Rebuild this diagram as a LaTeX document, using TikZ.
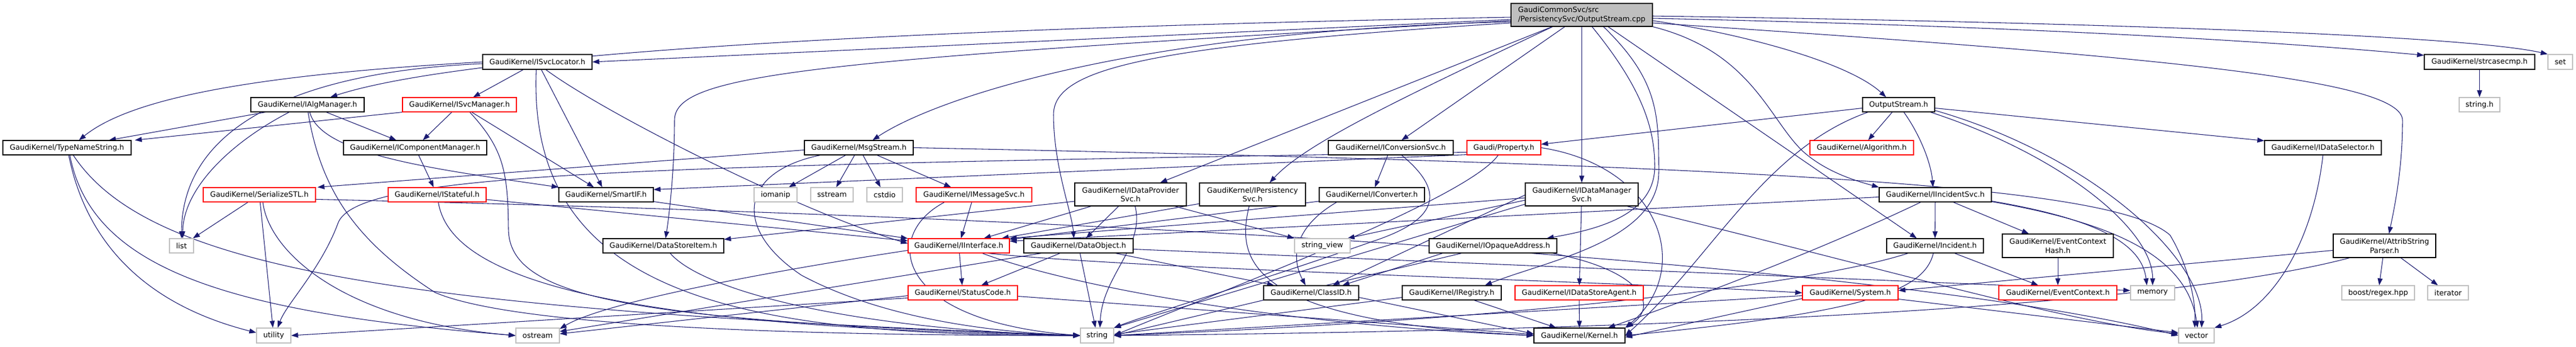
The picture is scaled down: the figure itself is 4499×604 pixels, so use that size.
\documentclass[tikz,border=0pt]{standalone}
\usepackage{fontspec}
\setmainfont{DejaVu Sans}
\usetikzlibrary{arrows.meta,calc}
\definecolor{edgec}{HTML}{191970}
\definecolor{greyb}{HTML}{BFBFBF}
\definecolor{redb}{HTML}{FF0000}
\newcommand{\nodefont}{\fontsize{9.6pt}{11.6pt}\selectfont}
\pgfdeclarelayer{bg}
\pgfsetlayers{bg,main}
\begin{document}
\begin{tikzpicture}[x=0.75pt,y=-0.75pt,
  bw/.style={minimum width=#1*0.75pt},
  bh/.style={minimum height=#1*0.75pt},
  nbox/.style={draw=black,fill=white,line width=0.9pt,inner sep=0pt,font=\nodefont,minimum height=18.75pt,text=black},
  rbox/.style={nbox,draw=redb},
  gbox/.style={nbox,draw=greyb},
  two/.style={align=center,minimum height=30pt},
  dep/.style={draw=edgec,line width=0.8pt,-{Triangle[length=9pt,width=6.5pt]}}
]
\useasboundingbox (0,0) rectangle (4499,604);
% ---- nodes ----
\node[nbox,fill=greyb,bw=247,align=left,minimum height=30pt] (cpp) at (2762.5,26) {GaudiCommonSvc/src\\/PersistencySvc/OutputStream.cpp};
\node[nbox,bw=191,bh=26] (isl) at (938.5,108) {GaudiKernel/ISvcLocator.h};
\node[nbox,bw=193,bh=26] (strc) at (4330.5,108) {GaudiKernel/strcasecmp.h};
\node[gbox,bw=43,bh=26] (set) at (4471.5,108) {set};
\node[nbox,bw=198] (ialg) at (537,182.5) {GaudiKernel/IAlgManager.h};
\node[rbox,bw=199] (ism) at (802.5,182.5) {GaudiKernel/ISvcManager.h};
\node[nbox,bw=126] (osh) at (3316,182.5) {OutputStream.h};
\node[gbox,bw=71] (strh) at (4330.5,182.5) {string.h};
\node[nbox,bw=224] (tns) at (117,257.5) {GaudiKernel/TypeNameString.h};
\node[nbox,bw=250] (icm) at (725,257.5) {GaudiKernel/IComponentManager.h};
\node[nbox,bw=190] (msg) at (1500,257.5) {GaudiKernel/MsgStream.h};
\node[nbox,bw=218] (icv) at (2429,257.5) {GaudiKernel/IConversionSvc.h};
\node[rbox,bw=129] (prop) at (2626.5,257.5) {Gaudi/Property.h};
\node[rbox,bw=181] (alg) at (3251.5,257.5) {GaudiKernel/Algorithm.h};
\node[nbox,bw=204] (idsel) at (4057,257.5) {GaudiKernel/IDataSelector.h};
\node[rbox,bw=196] (ser) at (453,339.5) {GaudiKernel/SerializeSTL.h};
\node[rbox,bw=171] (ist) at (763.5,339.5) {GaudiKernel/IStateful.h};
\node[nbox,bw=165] (sif) at (1058.5,339.5) {GaudiKernel/SmartIF.h};
\node[gbox,bw=75] (iom) at (1354.5,339.5) {iomanip};
\node[gbox,bw=74] (sst) at (1453,339.5) {sstream};
\node[gbox,bw=62] (cst) at (1545,339.5) {cstdio};
\node[rbox,bw=202] (ims) at (1701,339.5) {GaudiKernel/IMessageSvc.h};
\node[nbox,two,bw=195] (idp) at (1974.5,339) {GaudiKernel/IDataProvider\\Svc.h};
\node[nbox,two,bw=185] (ips) at (2187.5,339) {GaudiKernel/IPersistency\\Svc.h};
\node[nbox,bw=184] (icvt) at (2396,339.5) {GaudiKernel/IConverter.h};
\node[nbox,two,bw=197] (idm) at (2762.5,339) {GaudiKernel/IDataManager\\Svc.h};
\node[nbox,bw=196] (iis) at (3380,339.5) {GaudiKernel/IIncidentSvc.h};
\node[gbox,bw=42] (list) at (317,428.5) {list};
\node[nbox,bw=211] (dsi) at (1158.5,428.5) {GaudiKernel/DataStoreItem.h};
\node[rbox,bw=177] (iint) at (1674.5,428.5) {GaudiKernel/IInterface.h};
\node[nbox,bw=191] (dobj) at (1883.5,428.5) {GaudiKernel/DataObject.h};
\node[gbox,bw=97] (sv) at (2309.5,428.5) {string\_view};
\node[nbox,bw=223] (ioa) at (2607.5,428.5) {GaudiKernel/IOpaqueAddress.h};
\node[nbox,bw=169] (inc) at (3379.5,428.5) {GaudiKernel/Incident.h};
\node[nbox,two,bw=194,bh=41] (ech) at (3594,428.5) {GaudiKernel/EventContext\\Hash.h};
\node[nbox,two,bw=179,bh=41] (asp) at (4164.5,428.5) {GaudiKernel/AttribString\\Parser.h};
\node[rbox,bw=191] (sc) at (1681.5,510.5) {GaudiKernel/StatusCode.h};
\node[nbox,bw=166] (cid) at (2290,510.5) {GaudiKernel/ClassID.h};
\node[nbox,bw=173] (ireg) at (2535.5,510.5) {GaudiKernel/IRegistry.h};
\node[rbox,bw=224] (ida) at (2758,510.5) {GaudiKernel/IDataStoreAgent.h};
\node[rbox,bw=167] (sys) at (3231.5,510.5) {GaudiKernel/System.h};
\node[rbox,bw=206] (ec) at (3594,510.5) {GaudiKernel/EventContext.h};
\node[gbox,bw=77] (mem) at (3759.5,510.5) {memory};
\node[gbox,bw=127] (brx) at (4153.5,510.5) {boost/regex.hpp};
\node[gbox,bw=71] (iter) at (4275.5,510.5) {iterator};
\node[gbox,bw=60,bh=26] (util) at (478,585) {utility};
\node[gbox,bw=76,bh=26] (ost) at (939,585) {ostream};
\node[gbox,bw=58,bh=26] (str) at (1916,585) {string};
\node[nbox,bw=159,bh=26] (kern) at (2758.5,585) {GaudiKernel/Kernel.h};
\node[gbox,bw=62,bh=26] (vec) at (3836,585) {vector};
% ---- edges ----
\begin{pgfonlayer}{bg}
\fill[white] (0,0) rectangle (4499,604);
% cpp
\draw[dep] ($(cpp.west)+(0,8)$) -- (isl.east);
\draw[dep] ($(cpp.west)+(0,4)$) .. controls (1300,55) and (760,110) .. ($(ialg.north)+(40,0)$);
\draw[dep] ($(cpp.west)+(0,10)$) .. controls (1400,105) and (1178,130) .. (1178,210) .. controls (1178,300) and (1168,380) .. ($(dsi.north)+(4,0)$);
\draw[dep] ($(cpp.west)+(0,14)$) .. controls (2000,80) and (1840,120) .. (1840,200) .. controls (1840,290) and (1872,370) .. ($(dobj.north)-(8,0)$);
\draw[dep] ($(cpp.west)+(0,12)$) .. controls (1950,55) and (1620,180) .. ($(msg.north)+(24,0)$);
\draw[dep] (cpp) -- (idp);
\draw[dep] ($(cpp.south)-(51,0)$) .. controls (2450,170) and (2280,250) .. ($(ips.north)+(30,0)$);
\draw[dep] (cpp) -- (icv);
\draw[dep] (cpp) -- (idm);
\draw[dep] ($(cpp.south)+(18,0)$) .. controls (2865,150) and (2890,220) .. (2890,290) .. controls (2890,375) and (2790,400) .. ($(ioa.north)+(94,0)$);
\draw[dep] ($(cpp.south)+(38,0)$) .. controls (2897,140) and (2897,200) .. (2897,300) .. controls (2897,420) and (2700,455) .. ($(ireg.north)+(58,0)$);
\draw[dep] ($(cpp.south)+(46,0)$) -- ($(inc.north)-(32,0)$);
\draw[dep] (cpp.south east) .. controls (3060,90) and (3090,210) .. (3150,265) .. controls (3190,300) and (3240,315) .. (iis.north west);
\draw[dep] ($(cpp.east)+(0,10)$) .. controls (3050,60) and (3230,110) .. ($(osh.north)-(22,0)$);
\draw[dep] ($(cpp.east)+(0,6)$) .. controls (3500,45) and (3950,70) .. ($(strc.north west)+(0,2)$);
\draw[dep] ($(cpp.east)+(0,2)$) .. controls (3600,38) and (4300,60) .. (set.north west);
\draw[dep] ($(cpp.east)+(0,14)$) .. controls (3800,100) and (4196,140) .. (4196,210) .. controls (4196,300) and (4180,370) .. ($(asp.north)+(8,0)$);
% OutputStream.h
\draw[dep] ($(osh.west)+(0,6)$) -- ($(prop.east)+(0,-6)$);
\draw[dep] ($(osh.south west)+(10,0)$) .. controls (3080,260) and (2990,450) .. (kern.east);
\draw[dep] (osh) -- (alg);
\draw[dep] ($(osh.south)+(9,0)$) .. controls (3350,230) and (3372,280) .. ($(iis.north)-(4,0)$);
\draw[dep] ($(osh.south east)-(8,0)$) .. controls (3600,270) and (3760,400) .. (mem.north);
\draw[dep] ($(osh.south east)+(0,-3)$) .. controls (3650,270) and (3850,450) .. ($(vec.north)+(9,0)$);
\draw[dep] ($(osh.east)+(0,6)$) -- ($(idsel.north west)+(0,1)$);
% ISvcLocator
\draw[dep] (isl.west) .. controls (450,130) and (230,170) .. ($(tns.north)+(21,0)$);
\draw[dep] ($(isl.west)+(0,3)$) .. controls (520,125) and (318,220) .. (list.north);
\draw[dep] (isl) -- (ism);
\draw[dep] (isl) -- (sif);
\draw[dep] ($(isl.south)+(15,0)$) .. controls (1060,200) and (1400,370) .. ($(iint.west)+(0,-4)$);
\draw[dep] ($(isl.south)-(2,0)$) .. controls (920,520) and (1300,585) .. (str.west);
% ISvcManager
\draw[dep] (ism.south west) -- ($(tns.north east)+(6,0)$);
\draw[dep] (ism) -- (icm);
\draw[dep] (ism) -- (sif);
\draw[dep] ($(ism.south)+(18,0)$) .. controls (880,260) and (887,300) .. (888,400) .. controls (890,520) and (1100,560) .. (str.west);
% IAlgManager
\draw[dep] (ialg) -- (tns);
\draw[dep] ($(ialg.south)-(32,0)$) .. controls (400,250) and (320,330) .. ($(list.north)+(2,0)$);
\draw[dep] (ialg) -- (icm);
\draw[dep] ($(ialg.south)+(4,0)$) .. controls (560,270) and (760,295) .. (sif.north west);
\draw[dep] ($(ialg.south)+(1,0)$) .. controls (560,330) and (620,420) .. (760,510) .. controls (900,570) and (1400,585) .. (str.west);
% IComponentManager, IStateful
\draw[dep] (icm) -- (ist);
\draw[dep] (ist) -- (iint);
\draw[dep] ($(ist.south)+(2,0)$) .. controls (785,470) and (1000,570) .. (str.west);
% TypeNameString
\draw[dep] ($(tns.south)+(3,0)$) .. controls (150,420) and (250,530) .. ($(util.west)+(0,-5)$);
\draw[dep] ($(tns.south)+(5,0)$) .. controls (160,470) and (400,545) .. (ost.west);
\draw[dep] ($(tns.south)+(11,0)$) .. controls (260,470) and (700,540) .. (str.west);
% SerializeSTL
\draw[dep] (ser) -- (list);
\draw[dep] (ser) -- (util);
\draw[dep] ($(ser.south)+(6,0)$) .. controls (470,440) and (600,560) .. (ost.west);
\draw[dep] ($(ser.east)+(0,8)$) .. controls (2000,380) and (3300,460) .. (vec.west);
% SmartIF
\draw[dep] (sif) -- (iint);
% MsgStream
\draw[dep] ($(msg.west)+(0,4)$) -- ($(ser.north east)+(3,0)$);
\draw[dep] (msg) -- (iom);
\draw[dep] (msg) -- (sst);
\draw[dep] (msg) -- (cst);
\draw[dep] ($(msg.south)+(32,0)$) -- ($(ims.north)-(40,0)$);
\draw[dep] ($(msg.south west)+(28,0)$) .. controls (1290,300) and (1280,400) .. (1400,480) .. controls (1550,560) and (1750,580) .. (str.west);
\draw[dep] (msg.east) .. controls (3200,290) and (3700,330) .. (3790,410) .. controls (3820,460) and (3835,520) .. ($(vec.north)-(3,0)$);
% IMessageSvc
\draw[dep] (ims) -- (iint);
\draw[dep] ($(ims.south west)+(50,0)$) .. controls (1540,410) and (1560,560) .. (str.west);
% IInterface
\draw[dep] (iint) -- (sc);
\draw[dep] ($(iint.south east)-(38,0)$) .. controls (2000,470) and (2800,490) .. (sys.west);
\draw[dep] ($(iint.south east)-(48,0)$) .. controls (1900,510) and (2300,570) .. (kern.west);
\draw[dep] ($(iint.west)+(0,8)$) .. controls (1300,480) and (1050,530) .. ($(ost.north east)+(0,2)$);
% StatusCode
\draw[dep] ($(sc.west)+(0,5)$) -- ($(ost.east)+(0,-3)$);
\draw[dep] ($(sc.west)+(0,9)$) -- (util.east);
\draw[dep] ($(sc.east)+(0,6)$) -- ($(kern.west)+(0,-2)$);
% DataObject
\draw[dep] (dobj) -- (sc);
\draw[dep] (dobj) -- (cid);
\draw[dep] (dobj) -- (str);
\draw[dep] ($(dobj.south west)+(31,0)$) -- ($(ost.east)+(0,-7)$);
\draw[dep] ($(dobj.east)+(0,6)$) -- ($(mem.west)+(0,-4)$);
% DataStoreItem
\draw[dep] ($(dsi.south)+(12,0)$) .. controls (1230,510) and (1500,575) .. (str.west);
% IDataProviderSvc
\draw[dep] (idp) -- (iint);
\draw[dep] (idp) -- (dobj);
\draw[dep] ($(idp.south)+(8,0)$) .. controls (2000,430) and (1925,480) .. ($(str.north)+(5,0)$);
\draw[dep] (idp) -- (sv);
\draw[dep] ($(idp.west)+(0,12)$) -- ($(dsi.north east)+(0,2)$);
% IPersistencySvc
\draw[dep] (ips) -- (iint);
\draw[dep] ($(ips.south)-(6,0)$) .. controls (2160,450) and (2170,560) .. (kern.west);
% IConverter, IConversionSvc
\draw[dep] ($(icvt.south west)+(31,0)$) .. controls (2270,390) and (2250,440) .. ($(cid.north)-(10,0)$);
\draw[dep] (icvt) -- (iint);
\draw[dep] (icv) -- (icvt);
\draw[dep] ($(icv.south)+(19,0)$) .. controls (2520,330) and (2520,380) .. (2400,420) .. controls (2200,490) and (2000,550) .. (str.north east);
% Property
\draw[dep] ($(prop.south west)+(0,-1)$) -- ($(sif.east)+(0,-9)$);
\draw[dep] ($(prop.west)+(0,8)$) .. controls (1100,290) and (620,300) .. (590,390) .. controls (560,470) and (500,530) .. ($(util.north)+(7,0)$);
\draw[dep] ($(prop.south)-(10,0)$) .. controls (2560,350) and (2100,520) .. (str.east);
\draw[dep] (prop.east) .. controls (2900,290) and (2960,470) .. (kern.north east);
% IDataManagerSvc
\draw[dep] (idm) -- (ida);
\draw[dep] ($(idm.west)+(0,6)$) -- (iint.north east);
\draw[dep] ($(idm.west)+(0,1)$) -- ($(cid.north east)-(46,0)$);
\draw[dep] ($(idm.west)+(0,17)$) -- (str.north east);
\draw[dep] ($(idm.west)+(0,10)$) -- ($(sv.north east)-(5,0)$);
\draw[dep] ($(idm.south east)-(20,0)$) .. controls (3300,470) and (3600,560) .. ($(vec.west)+(0,-3)$);
% IOpaqueAddress
\draw[dep] ($(ioa.south)-(55,0)$) -- (str.east);
\draw[dep] ($(ioa.south west)+(24,0)$) -- ($(cid.north east)-(29,0)$);
\draw[dep] ($(ioa.south east)-(8,0)$) .. controls (2860,470) and (2900,530) .. ($(kern.north east)+(2,0)$);
% IRegistry, IDataStoreAgent
\draw[dep] (ireg) -- (kern);
\draw[dep] ($(ireg.west)+(0,8)$) -- ($(str.east)+(0,-2)$);
\draw[dep] (ida) -- (kern);
% Incident
\draw[dep] (inc) -- (ec);
\draw[dep] ($(inc.south west)+(38,0)$) .. controls (3150,500) and (2600,560) .. (str.east);
\draw[dep] ($(inc.south)-(3,0)$) .. controls (3360,510) and (3250,545) .. (kern.east);
% IIncidentSvc
\draw[dep] (iis) -- (inc);
\draw[dep] (iis) -- (ech);
\draw[dep] ($(iis.south east)+(0,-2)$) .. controls (3650,380) and (3740,420) .. ($(mem.north)-(10,0)$);
\draw[dep] ($(iis.south east)+(0,-1)$) .. controls (3700,390) and (3820,450) .. ($(vec.north)+(2,0)$);
\draw[dep] ($(iis.west)+(0,4)$) -- ($(iint.east)+(0,-8)$);
\draw[dep] ($(iis.south west)+(73,0)$) .. controls (3150,450) and (2900,540) .. ($(kern.north east)-(30,0)$);
% System
\draw[dep] ($(sys.west)+(0,10)$) -- ($(kern.east)+(0,3)$);
\draw[dep] ($(sys.west)+(0,5)$) -- (str.east);
\draw[dep] ($(sys.east)+(0,11)$) -- ($(vec.west)+(0,-5)$);
% AttribStringParser
\draw[dep] ($(asp.west)+(0,8)$) -- ($(sys.east)+(0,-4)$);
\draw[dep] ($(asp.south west)+(29,0)$) .. controls (3800,530) and (3000,575) .. (str.east);
\draw[dep] (asp) -- (brx);
\draw[dep] (asp) -- (iter);
% misc
\draw[dep] (ech) -- (ec);
\draw[dep] (idsel.south) .. controls (4040,420) and (3970,540) .. (vec.north east);
\draw[dep] (strc) -- (strh);
\draw[dep] ($(cid.east)+(0,8)$) -- ($(kern.west)+(0,-3)$);
\end{pgfonlayer}
\end{tikzpicture}
\end{document}
